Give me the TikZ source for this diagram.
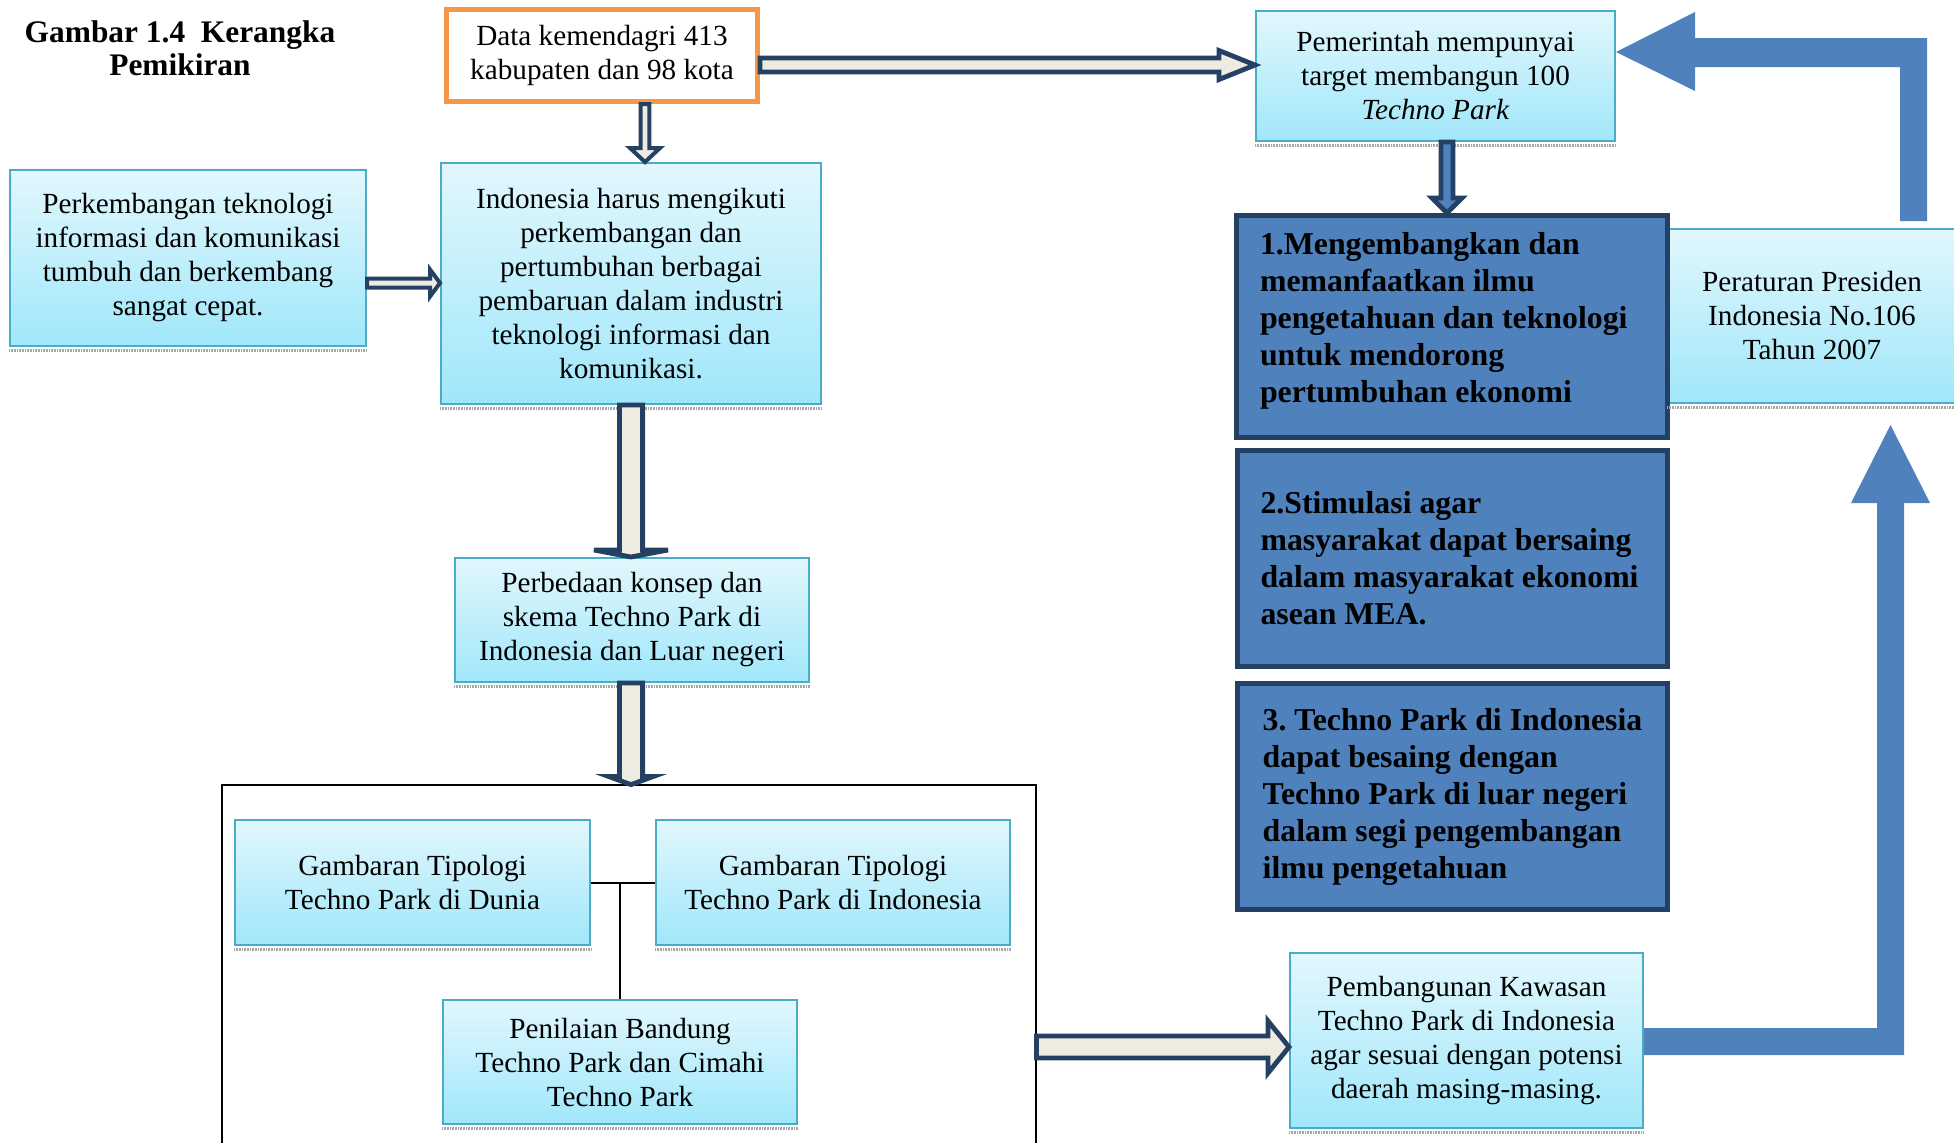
\documentclass[tikz,border=0pt]{standalone}
\usepackage{fontspec}
\setmainfont{Liberation Serif}
\usetikzlibrary{calc}
\definecolor{lborder}{RGB}{75,172,198}
\definecolor{ltop}{RGB}{226,247,253}
\definecolor{lbot}{RGB}{160,231,250}
\definecolor{navy}{RGB}{36,64,98}
\definecolor{dblue}{RGB}{79,129,189}
\definecolor{beige}{RGB}{238,236,225}
\definecolor{orangeb}{RGB}{247,150,70}
\newcommand\blkdown[7]{%
  \draw[#7] ($(#3,0 |- #1)+(-#4,0)$) -- ($(#3,0 |- #1)+(#4,0)$) -- ($(#3,0 |- #2)+(#4,-#6)$) -- ($(#3,0 |- #2)+(#5,-#6)$) -- (#3,0 |- #2) -- ($(#3,0 |- #2)+(-#5,-#6)$) -- ($(#3,0 |- #2)+(-#4,-#6)$) -- cycle;}
\newcommand\blkright[7]{%
  \draw[#7] ($(#1 |- 0,#3)+(0,-#4)$) -- ($(#2 |- 0,#3)+(-#6,-#4)$) -- ($(#2 |- 0,#3)+(-#6,-#5)$) -- (#2 |- 0,#3) -- ($(#2 |- 0,#3)+(-#6,#5)$) -- ($(#2 |- 0,#3)+(-#6,#4)$) -- ($(#1 |- 0,#3)+(0,#4)$) -- cycle;}
\tikzset{
  lbox/.style={draw=lborder, line width=1pt, top color=ltop, bottom color=lbot, align=center, inner sep=0pt, font=\fontsize{14.6}{17}\selectfont},
  obox/.style={draw=orangeb, line width=2.5pt, fill=white, align=center, inner sep=0pt, font=\fontsize{14.6}{17}\selectfont},
  dbox/.style={draw=navy, line width=2.5pt, fill=dblue, align=flush left, inner sep=0pt, font=\fontsize{15.9}{18.5}\selectfont\bfseries},
  titletext/.style={align=center, inner sep=0pt, font=\fontsize{15.7}{16.5}\selectfont\bfseries},
  dbl/.style={draw=navy, line width=2.4pt, fill=beige, line join=miter},
  dblthin/.style={draw=navy, line width=2pt, fill=beige, line join=miter},
  dblblue/.style={draw=navy, line width=2.4pt, fill=dblue, line join=miter},
  bluearr/.style={fill=dblue},
  shad/.style={draw=gray!70, line width=1.6pt, dash pattern=on 0.4pt off 0.4pt},
  framebox/.style={inner sep=0pt},
  frameline/.style={draw=black, line width=1pt},
  tee/.style={draw=black, line width=1pt}
}
\begin{document}
\begin{tikzpicture}[x=0.5pt, y=-0.5pt]
\useasboundingbox (0,0) rectangle (1954,1142);
\clip (0,0) rectangle (1954,1142);

% title
\node[titletext] (title) at (180,48.5) {Gambar 1.4\enspace Kerangka\\Pemikiran};

% boxes
\node[obox, minimum width=155.5pt, minimum height=46pt] (data) at (602,55.5) {Data kemendagri 413\\kabupaten dan 98 kota};
\node[lbox, minimum width=178pt, minimum height=88pt] (perk) at (188,258) {Perkembangan teknologi\\informasi dan komunikasi\\tumbuh dan berkembang\\sangat cepat.};
\node[lbox, minimum width=190pt, minimum height=120.5pt] (indo) at (631,283.5) {Indonesia harus mengikuti\\perkembangan dan\\pertumbuhan berbagai\\pembaruan dalam industri\\teknologi informasi dan\\komunikasi.};
\node[lbox, minimum width=179.5pt, minimum height=65pt] (pem) at (1435.5,76) {Pemerintah mempunyai\\target membangun 100\\\textit{Techno Park}};
\node[lbox, minimum width=177pt, minimum height=62pt] (perb) at (632,620) {Perbedaan konsep dan\\skema Techno Park di\\Indonesia dan Luar negeri};
\node[lbox, minimum width=144pt, minimum height=87pt] (per) at (1812,316) {Peraturan Presiden\\Indonesia No.106\\Tahun 2007};

\node[dbox, text width=192pt, minimum width=215.5pt, minimum height=111pt] (b1) at (1452,326.5) {1.Mengembangkan dan\\memanfaatkan ilmu\\pengetahuan dan teknologi\\untuk mendorong\\pertumbuhan ekonomi\rule[-9pt]{0pt}{9pt}};
\node[dbox, text width=192pt, minimum width=215pt, minimum height=108pt] (b2) at (1452.5,558.5) {2.Stimulasi agar\\masyarakat dapat bersaing\\dalam masyarakat ekonomi\\asean MEA.};
\node[dbox, minimum width=215pt, minimum height=113pt] (b3) at (1452.5,796.5) {3.\ Techno Park di Indonesia\\dapat besaing dengan\\Techno Park di luar negeri\\dalam segi pengembangan\\ilmu pengetahuan};

% frame (open at the bottom)
\node[framebox, minimum width=407pt, minimum height=207.5pt] (frame) at (629,992.5) {};
\draw[frameline] (frame.south west) -- (frame.north west) -- (frame.north east) -- (frame.south east);

\node[lbox, minimum width=177.5pt, minimum height=62.5pt] (dunia) at (412.5,882.5) {Gambaran Tipologi\\Techno Park di Dunia};
\node[lbox, minimum width=177pt, minimum height=62.5pt] (tipind) at (833,882.5) {Gambaran Tipologi\\Techno Park di Indonesia};
\node[lbox, minimum width=177pt, minimum height=62pt] (nilai) at (620,1062) {Penilaian Bandung\\Techno Park dan Cimahi\\Techno Park};
\node[lbox, minimum width=176.5pt, minimum height=87.5pt] (pemb) at (1466.5,1040.5) {Pembangunan Kawasan\\Techno Park di Indonesia\\agar sesuai dengan potensi\\daerah masing-masing.};

% shadows under light boxes
\foreach \n in {perk,indo,pem,perb,per,dunia,tipind,nilai,pemb}
  \draw[shad] ([yshift=-1.6pt]\n.south west) -- ([yshift=-1.6pt]\n.south east);

% tee connector inside the frame
\draw[tee] (dunia.east) -- (tipind.west);
\draw[tee] (nilai.north) -- (nilai.north |- dunia.east);

% block arrows
\blkdown{data.south}{indo.north}{645}{4.4}{15}{14}{dblthin}
\blkright{perk.east}{indo.west}{283}{4.5}{13.5}{10}{dblthin}
\blkright{data.east}{pem.west}{65}{7}{14.5}{36}{dbl}
\blkdown{pem.south}{b1.north}{1447}{6}{15}{15}{dblblue}
\blkdown{indo.south}{perb.north}{631}{11.6}{37}{7}{dbl}
\blkdown{perb.south}{frame.north}{631}{11.6}{22}{8}{dbl}
\blkright{frame.east}{pemb.west}{1047}{11}{26}{21}{dbl}

% blue elbow arrows
\fill[bluearr] ($(1927,0 |- per.north)+(0,-7)$) -- (1927,38) -- (1695,38) -- (1695,12) -- (pem.east |- 0,52) -- (1695,91) -- (1695,67) -- (1900,67) -- ($(1900,0 |- per.north)+(0,-7)$) -- cycle;
\fill[bluearr] (pemb.east |- 0,1028) -- (1877,1028) -- (1877,503) -- (1851,503) -- ($(1890.5,0 |- per.south)+(0,21)$) -- (1930,503) -- (1904,503) -- (1904,1055) -- (pemb.east |- 0,1055) -- cycle;
\end{tikzpicture}
\end{document}
